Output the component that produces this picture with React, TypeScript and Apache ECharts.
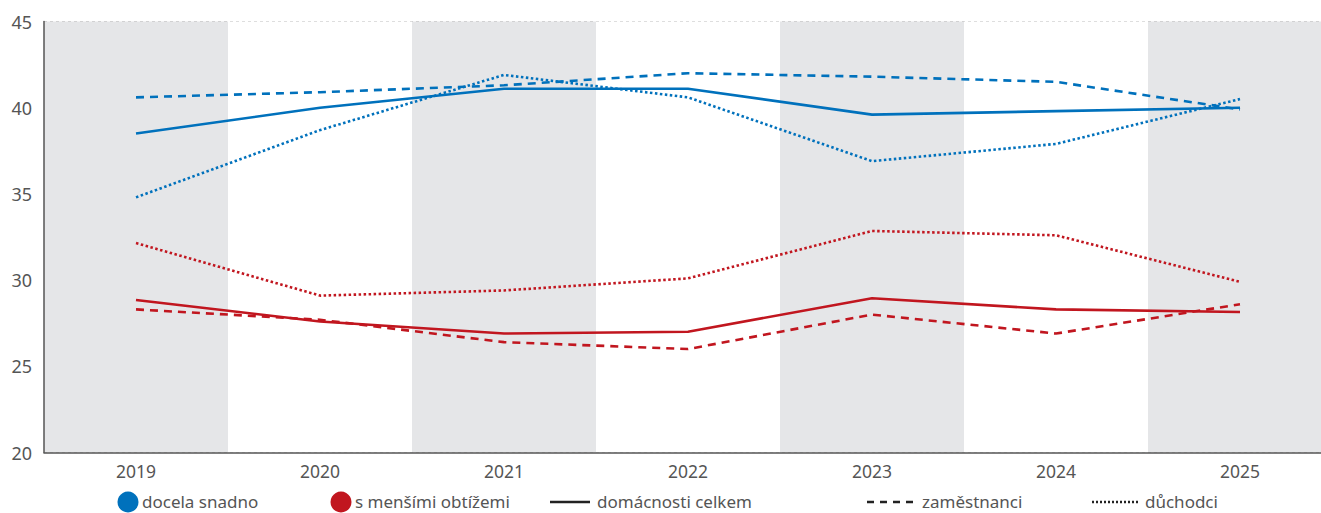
import React, { useEffect, useRef } from "react";
import * as echarts from "echarts";

const years = ["2019", "2020", "2021", "2022", "2023", "2024", "2025"];
const yTicks = [20, 25, 30, 35, 40, 45];

const blueTotal = [38.5, 40.0, 41.1, 41.1, 39.6, 39.8, 40.0];
const blueEmployees = [40.6, 40.9, 41.3, 42.0, 41.8, 41.5, 39.9];
const bluePensioners = [34.8, 38.7, 41.9, 40.6, 36.9, 37.9, 40.5];

const redTotal = [28.85, 27.6, 26.9, 27.0, 28.95, 28.3, 28.15];
const redEmployees = [28.3, 27.7, 26.4, 26.0, 28.0, 26.9, 28.6];
const redPensioners = [32.15, 29.1, 29.4, 30.1, 32.85, 32.6, 29.9];

const colorLegend = ["docela snadno", "s menšími obtížemi"];
const styleLegend = ["domácnosti celkem", "zaměstnanci", "důchodci"];

const BLUE = "#0071BC";
const RED = "#C1161F";
const FONT = "'Noto Sans', sans-serif";
const TEXT = "#555";

export default function App() {
  const ref = useRef<HTMLDivElement>(null);
  useEffect(() => {
    if (!ref.current) return;
    const chart = echarts.init(ref.current, null, { renderer: "svg" });
    const mk = (name: string, data: number[], color: string, type: any) => ({
      name,
      type: "line",
      data,
      symbol: "none",
      smooth: false,
      lineStyle: { color, width: 2.6, type, cap: "butt" },
      z: 3,
    });
    const legendY = 501;
    const textStyle = { fill: TEXT, font: `17px ${FONT}`, verticalAlign: "middle" };
    const graphic: any[] = [
      { type: "circle", shape: { cx: 128, cy: 502, r: 10.5 }, style: { fill: BLUE } },
      { type: "text", x: 142, y: legendY, style: { ...textStyle, text: colorLegend[0] } },
      { type: "circle", shape: { cx: 341, cy: 502, r: 10.5 }, style: { fill: RED } },
      { type: "text", x: 355, y: legendY, style: { ...textStyle, text: colorLegend[1] } },
      { type: "line", shape: { x1: 550, y1: 502, x2: 590, y2: 502 }, style: { stroke: "#222", lineWidth: 2.4 } },
      { type: "text", x: 597, y: legendY, style: { ...textStyle, text: styleLegend[0] } },
      { type: "line", shape: { x1: 867, y1: 502, x2: 917, y2: 502 }, style: { stroke: "#222", lineWidth: 2.4, lineDash: [7, 6] } },
      { type: "text", x: 922, y: legendY, style: { ...textStyle, text: styleLegend[1] } },
      { type: "line", shape: { x1: 1092, y1: 502, x2: 1139, y2: 502 }, style: { stroke: "#222", lineWidth: 2.4, lineDash: [2, 2] } },
      { type: "text", x: 1145, y: legendY, style: { ...textStyle, text: styleLegend[2] } },
    ];
    chart.setOption({
      animation: false,
      grid: { left: 44, right: 0, top: 21.5, bottom: 60.5, containLabel: false },
      xAxis: {
        type: "category",
        data: years,
        boundaryGap: true,
        axisLine: { show: true, lineStyle: { color: "#555", width: 1.5 } },
        axisTick: { show: false },
        axisLabel: { color: TEXT, fontFamily: FONT, fontSize: 17.5, margin: 9 },
        splitArea: { show: true, areaStyle: { color: ["#E5E6E8", "#FFFFFF"] } },
      },
      yAxis: {
        type: "value",
        min: yTicks[0],
        max: yTicks[yTicks.length - 1],
        interval: 5,
        axisLine: { show: true, lineStyle: { color: "#555", width: 1.5 } },
        axisTick: { show: false },
        axisLabel: { color: TEXT, fontFamily: FONT, fontSize: 18, margin: 12 },
        splitLine: { show: true, lineStyle: { color: "#BDBDBD", type: [3, 3], width: 1 } },
      },
      series: [
        mk("blueTotal", blueTotal, BLUE, "solid"),
        mk("blueEmployees", blueEmployees, BLUE, [8, 6]),
        mk("bluePensioners", bluePensioners, BLUE, [2.5, 2.5]),
        mk("redTotal", redTotal, RED, "solid"),
        mk("redEmployees", redEmployees, RED, [8, 6]),
        mk("redPensioners", redPensioners, RED, [2.5, 2.5]),
      ],
      graphic,
    });
    return () => chart.dispose();
  }, []);
  return (
    <div style={{ position: "fixed", left: 0, top: 0, width: 1321, height: 513, overflow: "hidden", background: "#fff" }}>
      <div ref={ref} style={{ width: 1332, height: 513 }} />
    </div>
  );
}
